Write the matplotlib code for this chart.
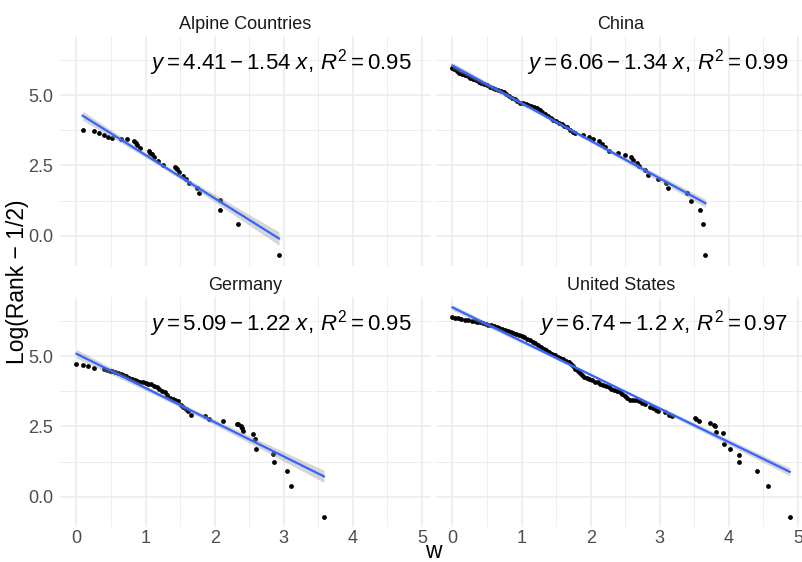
import numpy as np
import matplotlib
matplotlib.use('Agg')
import matplotlib.pyplot as plt

plt.rcParams['font.family'] = ['Liberation Sans', 'DejaVu Sans']
plt.rcParams['mathtext.fontset'] = 'custom'
plt.rcParams['mathtext.rm'] = 'Liberation Sans'
plt.rcParams['mathtext.it'] = 'Liberation Sans:italic'

regions = ['Alpine Countries', 'China', 'Germany', 'United States']

# values: w vs log(rank - 1/2)
alpine_w = [0.09, 0.26, 0.33, 0.40, 0.46, 0.52, 0.64, 0.73, 0.83, 0.86,
            0.88, 0.92, 1.05, 1.07, 1.09, 1.12, 1.18, 1.25, 1.42, 1.44,
            1.46, 1.49, 1.54, 1.58, 1.63, 1.74, 1.77, 2.07, 2.08, 2.34,
            2.93]
alpine_y = [3.76, 3.71, 3.64, 3.57, 3.52, 3.48, 3.45, 3.43, 3.38, 3.31,
            3.23, 3.11, 3.02, 2.96, 2.91, 2.79, 2.67, 2.53, 2.46, 2.42,
            2.37, 2.28, 2.14, 2.02, 1.88, 1.70, 1.51, 1.27, 0.91, 0.42,
            -0.69]

china_w = [0.00, 0.02, 0.06, 0.10, 0.14, 0.18, 0.22, 0.26, 0.30, 0.34,
           0.38, 0.42, 0.46, 0.50, 0.54, 0.58, 0.62, 0.66, 0.70, 0.74,
           0.78, 0.82, 0.86, 0.90, 0.94, 0.98, 1.02, 1.06, 1.10, 1.14,
           1.18, 1.22, 1.26, 1.30, 1.34, 1.38, 1.42, 1.46, 1.50, 1.54,
           1.58, 1.62, 1.66, 1.70, 1.74, 1.77, 1.89, 1.97, 2.04, 2.12,
           2.16, 2.21, 2.26, 2.39, 2.50, 2.58, 2.61, 2.67, 2.70, 2.79,
           2.83, 2.98, 3.09, 3.12, 3.40, 3.45, 3.58, 3.62, 3.66]
china_y = [5.97, 5.93, 5.85, 5.80, 5.77, 5.72, 5.67, 5.62, 5.58, 5.53,
           5.48, 5.43, 5.39, 5.35, 5.31, 5.27, 5.23, 5.19, 5.14, 5.10,
           5.04, 4.98, 4.92, 4.86, 4.80, 4.74, 4.71, 4.68, 4.65, 4.61,
           4.57, 4.53, 4.47, 4.41, 4.34, 4.27, 4.20, 4.13, 4.07, 4.02,
           3.97, 3.92, 3.86, 3.78, 3.70, 3.64, 3.58, 3.50, 3.44, 3.38,
           3.26, 3.14, 3.02, 2.94, 2.87, 2.81, 2.69, 2.59, 2.47, 2.34,
           2.16, 2.02, 1.88, 1.70, 1.52, 1.25, 0.91, 0.40, -0.69]

germany_w = [0.00, 0.09, 0.17, 0.25, 0.40, 0.44, 0.48, 0.52, 0.56, 0.60,
             0.64, 0.68, 0.72, 0.76, 0.80, 0.84, 0.88, 0.92, 0.96, 1.00,
             1.04, 1.08, 1.12, 1.16, 1.20, 1.24, 1.28, 1.31, 1.35, 1.39,
             1.43, 1.47, 1.51, 1.54, 1.58, 1.62, 1.66, 1.86, 1.92, 2.12,
             2.32, 2.34, 2.38, 2.40, 2.41, 2.55, 2.59, 2.60, 2.85, 2.86,
             3.04, 3.11, 3.58]
germany_y = [4.73, 4.69, 4.64, 4.58, 4.53, 4.50, 4.48, 4.46, 4.43, 4.41,
             4.37, 4.33, 4.29, 4.24, 4.19, 4.14, 4.12, 4.10, 4.08, 4.06,
             4.03, 4.00, 3.95, 3.90, 3.84, 3.78, 3.71, 3.62, 3.51, 3.47,
             3.43, 3.39, 3.28, 3.21, 3.12, 3.04, 2.92, 2.88, 2.78, 2.68,
             2.60, 2.57, 2.50, 2.44, 2.33, 2.24, 2.07, 1.69, 1.51, 1.24,
             0.91, 0.39, -0.71]

us_w = [0.00, 0.04, 0.08, 0.13, 0.18, 0.23, 0.28, 0.32, 0.36, 0.40,
        0.44, 0.48, 0.52, 0.56, 0.60, 0.64, 0.68, 0.72, 0.76, 0.80,
        0.84, 0.88, 0.92, 0.96, 1.00, 1.04, 1.08, 1.12, 1.16, 1.20,
        1.24, 1.28, 1.32, 1.36, 1.40, 1.44, 1.48, 1.52, 1.56, 1.60,
        1.64, 1.68, 1.72, 1.75, 1.78, 1.81, 1.84, 1.87, 1.90, 1.94,
        1.98, 2.02, 2.06, 2.10, 2.14, 2.18, 2.22, 2.26, 2.30, 2.34,
        2.38, 2.42, 2.45, 2.49, 2.53, 2.57, 2.61, 2.66, 2.70, 2.74,
        2.79, 2.86, 2.90, 2.94, 2.98, 3.07, 3.14, 3.17, 3.51, 3.53,
        3.56, 3.72, 3.78, 3.80, 3.81, 3.91, 3.93, 4.02, 4.14, 4.14,
        4.41, 4.57, 4.88]
us_y = [6.39, 6.37, 6.35, 6.33, 6.31, 6.29, 6.27, 6.25, 6.23, 6.21,
        6.18, 6.16, 6.13, 6.10, 6.07, 6.04, 6.01, 5.97, 5.94, 5.90,
        5.87, 5.84, 5.81, 5.77, 5.72, 5.67, 5.62, 5.57, 5.52, 5.47,
        5.41, 5.34, 5.27, 5.21, 5.15, 5.09, 5.04, 4.99, 4.94, 4.89,
        4.84, 4.78, 4.71, 4.64, 4.56, 4.48, 4.40, 4.33, 4.27, 4.22,
        4.18, 4.14, 4.10, 4.07, 4.03, 3.99, 3.94, 3.89, 3.84, 3.80,
        3.76, 3.72, 3.66, 3.59, 3.52, 3.45, 3.44, 3.43, 3.39, 3.35,
        3.31, 3.21, 3.15, 3.09, 3.04, 3.00, 2.92, 2.86, 2.80, 2.76,
        2.68, 2.62, 2.56, 2.50, 2.32, 2.26, 1.87, 1.69, 1.49, 1.25,
        0.92, 0.39, -0.71]

# fitted lines as printed in the panels
intercepts = [4.41, 6.06, 5.09, 6.74]
slopes = [-1.54, -1.34, -1.22, -1.2]
r2 = [0.95, 0.99, 0.95, 0.97]

xs = [alpine_w, china_w, germany_w, us_w]
ys = [alpine_y, china_y, germany_y, us_y]

W, H = 803, 562
pw, ph = 371, 230
corners = [(59.6, 36), (435.6, 36), (59.6, 297), (435.6, 297)]

# shared limits, ggplot-like 5% expansion
allx = np.concatenate([np.array(v) for v in xs])
ally = [np.array(v) for v in ys]
ally += [np.array([a + b*min(x), a + b*max(x)]) for a, b, x in zip(intercepts, slopes, xs)]
ally = np.concatenate(ally)
dx = allx.max() - allx.min()
dy = ally.max() - ally.min()
xlim = (allx.min() - 0.05*dx, allx.max() + 0.05*dx)
ylim = (ally.min() - 0.05*dy, ally.max() + 0.05*dy)

fig = plt.figure(figsize=(W/100, H/100), dpi=100)

for i in range(4):
    x0, y0 = corners[i]
    ax = fig.add_axes([x0/W, 1 - (y0 + ph)/H, pw/W, ph/H])
    ax.set_xlim(xlim)
    ax.set_ylim(ylim)
    ax.set_xticks([0, 1, 2, 3, 4, 5])
    ax.set_xticks([0.5, 1.5, 2.5, 3.5, 4.5], minor=True)
    ax.set_yticks([0, 2.5, 5])
    ax.set_yticks([1.25, 3.75, 6.25], minor=True)
    ax.set_yticklabels(['0.0', '2.5', '5.0'])
    ax.grid(which='major', color='#EBEBEB', lw=1.1)
    ax.grid(which='minor', color='#EBEBEB', lw=0.6)
    ax.set_axisbelow(True)
    for s in ax.spines.values():
        s.set_visible(False)
    ax.tick_params(which='both', length=0, labelsize=13, labelcolor='#4D4D4D')
    ax.tick_params(axis='x', pad=2.5)
    ax.tick_params(axis='y', pad=4.5)
    if i < 2:
        ax.tick_params(axis='x', labelbottom=False)
    if i % 2 == 1:
        ax.tick_params(axis='y', labelleft=False)

    x = np.array(xs[i])
    y = np.array(ys[i])
    a, b = intercepts[i], slopes[i]
    ax.scatter(x, y, s=12, color='black', lw=0, zorder=2)

    # line + confidence ribbon
    xx = np.linspace(x.min(), x.max(), 80)
    yy = a + b*xx
    res = y - (a + b*x)
    n = len(x)
    sd = np.sqrt(np.sum(res**2)/(n - 2))
    se = sd*np.sqrt(1/n + (xx - x.mean())**2/np.sum((x - x.mean())**2))
    ax.fill_between(xx, yy - 1.96*se, yy + 1.96*se, color='#999999', alpha=0.4, lw=0, zorder=3)
    ax.plot(xx, yy, color='#3366FF', lw=1.6, zorder=4)

    lab = r'$y = %s - %s\ x,\,R^2 = %.2f$' % (('%g' % a), ('%g' % abs(b)), r2[i])
    ax.text(0.95, 0.95, lab, transform=ax.transAxes, ha='right', va='top',
            fontsize=16, color='black', zorder=5)
    ax.text(0.5, 1 + 7/ph, regions[i], transform=ax.transAxes, ha='center',
            va='baseline', fontsize=13, color='#1A1A1A')

fig.text(433/W, 1 - 558/H, 'w', ha='center', va='baseline', fontsize=16.5, color='black')
fig.text(18/W, 1 - 281.5/H, 'Log(Rank \u2212 1/2)', rotation=90, ha='center', va='center',
         fontsize=16.5, color='black')

fig.savefig('out.png', dpi=100)
